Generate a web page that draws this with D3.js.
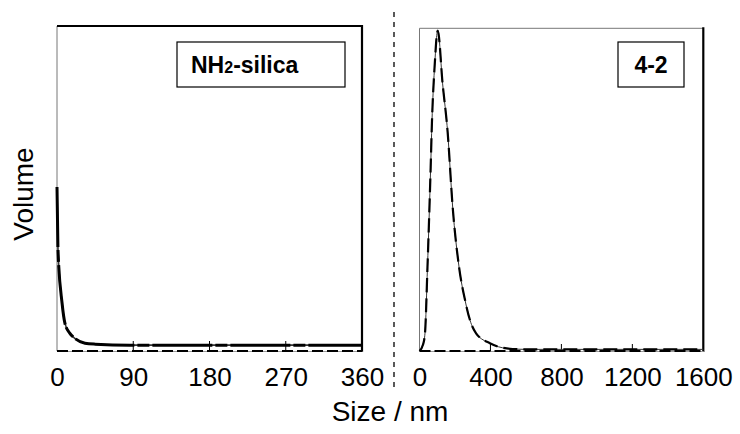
<!DOCTYPE html>
<html>
<head>
<meta charset="utf-8">
<script src="https://cdn.jsdelivr.net/npm/d3@7"></script>
<style>
  body { margin: 0; background: #fff; }
  text { font-family: "Liberation Sans", Arial, sans-serif; fill: #000; }
</style>
</head>
<body>
<svg width="740" height="434"></svg>
<script>
// NH2-silica: size (nm) vs volume
var silicaSize = [0, 1.2, 6, 9.4, 15, 21, 33, 45, 86, 360];
var silicaVol  = [50.5, 31, 14.7, 8.5, 5.5, 3.9, 2.4, 2.1, 1.8, 1.8];

// 4-2: size (nm) vs volume
var s42Size = [0, 20, 31, 45, 63, 70, 85, 103, 130, 159, 187, 223, 257, 285, 319, 397, 492, 600, 1600];
var s42Vol  = [0, 2, 5.5, 26, 57, 70.6, 88, 99.3, 83, 67.6, 44.6, 26, 15.7, 9.5, 5.5, 2.4, 0.8, 0.5, 0.5];

var silicaTicks = [0, 90, 180, 270, 360];
var s42Ticks = [0, 400, 800, 1200, 1600];

var svg = d3.select("svg");

var panels = [
  {label: "NH2", size: silicaSize, vol: silicaVol, ticks: silicaTicks, max: 360,
   left: 57, right: 362, top: 26, bottom: 351, box: [177, 42, 168, 45], topBold: true},
  {label: "4-2", size: s42Size, vol: s42Vol, ticks: s42Ticks, max: 1600,
   left: 419.5, right: 703.3, top: 28.3, bottom: 351, box: [618, 42, 66, 45], topBold: false}
];

panels.forEach(function(p, i) {
  var x = d3.scaleLinear().domain([0, p.max]).range([p.left, p.right]),
      y = d3.scaleLinear().domain([0, 100]).range([p.bottom, p.top]);

  var g = svg.append("g");

  // frame
  g.append("line").attr("x1", p.left).attr("x2", p.left).attr("y1", p.top).attr("y2", p.bottom)
      .attr("stroke", "#777").attr("stroke-width", 1);
  g.append("line").attr("x1", p.left).attr("x2", p.right).attr("y1", p.top).attr("y2", p.top)
      .attr("stroke", p.topBold ? "#000" : "#777").attr("stroke-width", p.topBold ? 2 : 1);
  g.append("line").attr("x1", p.right).attr("x2", p.right).attr("y1", p.top - 1).attr("y2", p.bottom + 1)
      .attr("stroke", "#000").attr("stroke-width", 2.2);

  // bottom axis
  var axis = g.append("g")
      .attr("transform", "translate(0," + p.bottom + ")")
      .call(d3.axisBottom(x).tickValues(p.ticks).tickFormat(d3.format("d")).tickSize(0).tickPadding(17));
  axis.select(".domain").attr("stroke", "#999").attr("stroke-width", 1);
  axis.selectAll("text")
      .style("font-size", "26px")
      .style("font-family", "Liberation Sans, Arial, sans-serif");
  g.append("line").attr("x1", p.left).attr("x2", p.right).attr("y1", p.bottom).attr("y2", p.bottom)
      .attr("stroke", "#000").attr("stroke-width", 2).attr("stroke-dasharray", "11,4");

  // inner ticks
  g.selectAll(".itick")
      .data(p.ticks.slice(1, -1))
    .enter().append("line")
      .attr("x1", function(d) { return x(d); })
      .attr("x2", function(d) { return x(d); })
      .attr("y1", p.bottom)
      .attr("y2", p.bottom - (i === 0 ? 10 : 7))
      .attr("stroke", "#000").attr("stroke-width", 1);

  // curve
  var pts = p.size.map(function(s, k) { return [s, p.vol[k]]; });
  var line = d3.line()
      .x(function(d) { return x(d[0]); })
      .y(function(d) { return y(d[1]); })
      .curve(d3.curveMonotoneX);

  g.append("path").datum(pts)
      .attr("d", line)
      .attr("fill", "none").attr("stroke", "#333").attr("stroke-width", i === 0 ? 1.6 : 1);
  g.append("path").datum(pts)
      .attr("d", line)
      .attr("fill", "none").attr("stroke", "#000").attr("stroke-width", i === 0 ? 3 : 2.2)
      .attr("stroke-dasharray", i === 0 ? "60,3,12,3" : "14,6");

  // label box
  g.append("rect")
      .attr("x", p.box[0]).attr("y", p.box[1]).attr("width", p.box[2]).attr("height", p.box[3])
      .attr("fill", "#fff").attr("stroke", "#000").attr("stroke-width", 1.2);
  var t = g.append("text")
      .attr("y", 73)
      .style("font-size", "23px").style("font-weight", "bold");
  if (i === 0) {
    t.attr("x", 191);
    t.append("tspan").text("NH");
    t.append("tspan").style("font-size", "16px").text("2");
    t.append("tspan").text("-silica");
  } else {
    t.attr("x", p.box[0] + p.box[2] / 2).attr("text-anchor", "middle").text(p.label);
  }
});

// divider
svg.append("line")
    .attr("x1", 394).attr("x2", 394).attr("y1", 12).attr("y2", 388)
    .attr("stroke", "#000").attr("stroke-width", 1.3).attr("stroke-dasharray", "5,5");

// axis titles
svg.append("text")
    .attr("transform", "translate(33,194) rotate(-90)")
    .attr("text-anchor", "middle")
    .style("font-size", "28px")
    .text("Volume");

svg.append("text")
    .attr("x", 390).attr("y", 421)
    .attr("text-anchor", "middle")
    .style("font-size", "28px")
    .text("Size / nm");
</script>
</body>
</html>
